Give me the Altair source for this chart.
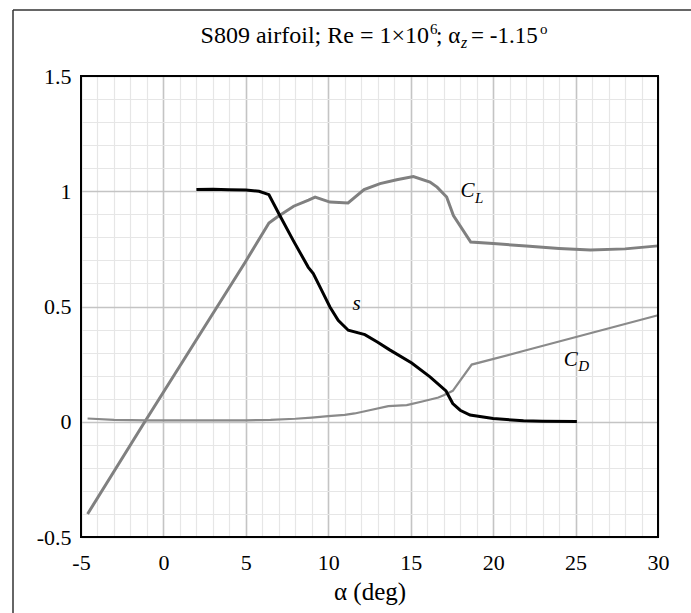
import altair as alt
import pandas as pd

# ---- data ----
alpha_CL = [-4.6, -1.13, 2.0, 4.94, 6.4, 6.9, 7.9, 8.8, 9.2, 10.1, 11.2, 12.17, 13.14, 14.15, 15.16,
            16.17, 16.6, 17.18, 17.59, 18.64, 20.0, 22.0, 24.0, 25.9, 28.0, 30.0]
CL = [-0.40, 0.0, 0.356, 0.69, 0.862, 0.888, 0.935, 0.962, 0.975, 0.953, 0.949, 1.007, 1.033, 1.05, 1.064,
      1.04, 1.018, 0.975, 0.895, 0.78, 0.773, 0.762, 0.752, 0.745, 0.75, 0.763]

alpha_CD = [-4.6, -3.0, -1.0, 2.0, 5.0, 6.5, 8.0, 9.0, 10.0, 11.0, 11.6, 12.5, 13.64, 14.76, 15.7,
            16.68, 17.0, 17.55, 18.7, 22.0, 26.0, 30.0]
CD = [0.014, 0.008, 0.006, 0.006, 0.006, 0.008, 0.013, 0.018, 0.024, 0.03, 0.036, 0.05, 0.068, 0.072, 0.088,
      0.105, 0.115, 0.134, 0.248, 0.31, 0.386, 0.462]

alpha_s = [2.0, 3.0, 4.0, 5.0, 5.8, 6.4, 7.06, 7.87, 8.78, 9.09, 9.6, 10.1, 10.6, 11.21, 12.22, 13.0,
           13.7, 15.06, 16.17, 17.14, 17.28, 17.55, 18.0, 18.6, 20.0, 21.84, 23.0, 25.08]
s_val = [1.008, 1.009, 1.007, 1.005, 1.0, 0.985, 0.895, 0.787, 0.671, 0.643, 0.57, 0.498, 0.44, 0.397, 0.378,
         0.345, 0.313, 0.255, 0.195, 0.134, 0.115, 0.079, 0.05, 0.029, 0.014, 0.004, 0.002, 0.001]

lab_text = ["C", "s", "C"]
lab_alpha = [18.45, 11.72, 24.71]
lab_val = [0.999, 0.513, 0.267]
sub_text = ["L", "D"]
sub_alpha = [19.15, 25.49]
sub_val = [0.969, 0.244]

x_ticks = list(range(-5, 31))
y_ticks = [round(-0.5 + 0.1 * i, 1) for i in range(21)]

FONT = "Liberation Serif"
W, H = 577, 461

grid_color_x = {"condition": {"test": "datum.value % 5 === 0", "value": "#c4c4c4"}, "value": "#e6e6e6"}
grid_width_x = {"condition": {"test": "datum.value % 5 === 0", "value": 1.6}, "value": 1.2}
major_y = "abs(datum.value*2 - round(datum.value*2)) < 1e-6"
grid_color_y = {"condition": {"test": major_y, "value": "#c4c4c4"}, "value": "#e6e6e6"}
grid_width_y = {"condition": {"test": major_y, "value": 1.6}, "value": 1.2}

X = alt.X("a:Q", scale=alt.Scale(domain=[-5, 30], nice=False, zero=False),
          axis=alt.Axis(values=x_ticks, tickCount=500, grid=True, gridColor=grid_color_x, gridWidth=grid_width_x,
                        ticks=False, tickSize=0, domain=False,
                        labelExpr="datum.value % 5 === 0 ? '' + datum.value : ''",
                        labelFont=FONT, labelFontSize=22, labelColor="black", labelPadding=15,
                        labelFlush=False, labelOverlap=False,
                        title="α (deg)", titleFont=FONT, titleFontSize=25, titleFontWeight="normal",
                        titleColor="black", titleBaseline="alphabetic", titleY=62))
Y = alt.Y("v:Q", scale=alt.Scale(domain=[-0.5, 1.5], nice=False, zero=False),
          axis=alt.Axis(values=y_ticks, tickCount=500, grid=True, gridColor=grid_color_y, gridWidth=grid_width_y,
                        ticks=False, tickSize=0, domain=False,
                        labelExpr=major_y + " ? '' + datum.value : ''",
                        labelFont=FONT, labelFontSize=22, labelColor="black", labelPadding=10,
                        labelFlush=False, labelOverlap=False, title=None))

df_cl = pd.DataFrame({"a": alpha_CL, "v": CL})
df_cd = pd.DataFrame({"a": alpha_CD, "v": CD})
df_s = pd.DataFrame({"a": alpha_s, "v": s_val})

cl_line = alt.Chart(df_cl).mark_line(color="#808080", strokeWidth=3).encode(x=X, y=Y)
cd_line = alt.Chart(df_cd).mark_line(color="#8a8a8a", strokeWidth=2.2).encode(x=X, y=Y)
s_line = alt.Chart(df_s).mark_line(color="black", strokeWidth=3).encode(x=X, y=Y)

labels = alt.Chart(pd.DataFrame({"a": lab_alpha, "v": lab_val, "t": lab_text})).mark_text(
    font=FONT, fontSize=21, fontStyle="italic", color="black", align="center", baseline="middle"
).encode(x=X, y=Y, text="t:N")
subs = alt.Chart(pd.DataFrame({"a": sub_alpha, "v": sub_val, "t": sub_text})).mark_text(
    font=FONT, fontSize=15, fontStyle="italic", color="black", align="center", baseline="middle"
).encode(x=X, y=Y, text="t:N")

one = pd.DataFrame({"k": [0]})


def piece(text, x, y, size, align="left", italic=False):
    return alt.Chart(one).mark_text(
        font=FONT, fontSize=size, fontStyle="italic" if italic else "normal",
        color="black", align=align, baseline="alphabetic"
    ).encode(x=alt.value(x), y=alt.value(y), text=alt.value(text))


title_parts = [
    piece("S809 airfoil; Re = 1×10", 348, -33, 24, align="right"),
    piece("6", 349, -42, 15),
    piece("; α", 355, -33, 23),
    piece("z", 380, -28, 16, italic=True),
    piece(" = -1.15", 390, -33, 23),
    piece("o", 459, -42, 15),
]

frame = alt.Chart(one).mark_rect(fill=None, stroke="black", strokeWidth=2).encode(
    x=alt.value(0), x2=alt.value(W), y=alt.value(0), y2=alt.value(H))
outer_v = alt.Chart(one).mark_rule(color="#333333", strokeWidth=1.5).encode(
    x=alt.value(-68), y=alt.value(-66), y2=alt.value(H + 80))
outer_h = alt.Chart(one).mark_rule(color="#333333", strokeWidth=1.5).encode(
    x=alt.value(-68), x2=alt.value(W + 40), y=alt.value(-66))

chart = alt.layer(cl_line, cd_line, s_line, labels, subs, frame, outer_v, outer_h, *title_parts).properties(
    width=W, height=H,
    autosize=alt.AutoSizeParams(type="none"),
    padding={"left": 81, "top": 76, "right": 691 - 81 - W, "bottom": 613 - 76 - H},
    background="white",
).configure_view(stroke=None)

chart.save("out.html", embed_options={"renderer": "svg", "actions": False})
